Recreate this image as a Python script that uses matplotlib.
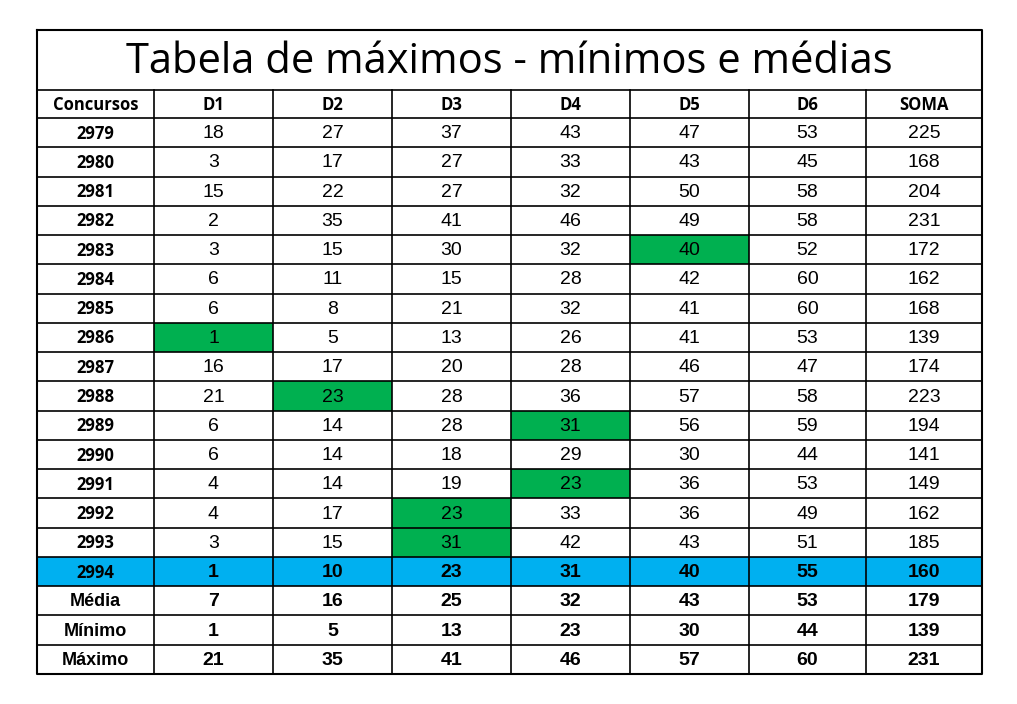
import matplotlib.pyplot as plt
from matplotlib.patches import Rectangle

title = "Tabela de máximos - mínimos e médias"
headers = ["Concursos", "D1", "D2", "D3", "D4", "D5", "D6", "SOMA"]
concursos = [2979, 2980, 2981, 2982, 2983, 2984, 2985, 2986, 2987, 2988,
             2989, 2990, 2991, 2992, 2993, 2994]
d1 = [18, 3, 15, 2, 3, 6, 6, 1, 16, 21, 6, 6, 4, 4, 3, 1]
d2 = [27, 17, 22, 35, 15, 11, 8, 5, 17, 23, 14, 14, 14, 17, 15, 10]
d3 = [37, 27, 27, 41, 30, 15, 21, 13, 20, 28, 28, 18, 19, 23, 31, 23]
d4 = [43, 33, 32, 46, 32, 28, 32, 26, 28, 36, 31, 29, 23, 33, 42, 31]
d5 = [47, 43, 50, 49, 40, 42, 41, 41, 46, 57, 56, 30, 36, 36, 43, 40]
d6 = [53, 45, 58, 58, 52, 60, 60, 53, 47, 58, 59, 44, 53, 49, 51, 55]
soma = [225, 168, 204, 231, 172, 162, 168, 139, 174, 223, 194, 141, 149, 162, 185, 160]
stat_labels = ["Média", "Mínimo", "Máximo"]
media = [7, 16, 25, 32, 43, 53, 179]
minimo = [1, 5, 13, 23, 30, 44, 139]
maximo = [21, 35, 41, 46, 57, 60, 231]
# (row index, column index) of green highlighted cells; column 1 = D1
green_cells = [(4, 5), (7, 1), (9, 2), (10, 4), (12, 4), (13, 3), (14, 3)]

GREEN = "#00B050"
BLUE = "#00B0F0"

fig = plt.figure(figsize=(10.17, 7.04), dpi=100)
ax = fig.add_axes([0, 0, 1, 1])
ax.set_xlim(0, 1017)
ax.set_ylim(704, 0)
ax.axis("off")

xs = [37, 154, 273, 392, 511, 630, 749, 866, 982]
top, title_bottom, header_bottom, bottom = 30, 90, 118, 674
n_rows = len(concursos) + len(stat_labels)
rh = (bottom - header_bottom) / n_rows

cols = [d1, d2, d3, d4, d5, d6, soma]
body = [[str(c)] + [str(col[i]) for col in cols] for i, c in enumerate(concursos)]
for lab, vals in zip(stat_labels, [media, minimo, maximo]):
    body.append([lab] + [str(v) for v in vals])

# fills
last = len(concursos) - 1
ax.add_patch(Rectangle((xs[0], header_bottom + last * rh), xs[-1] - xs[0], rh,
                       facecolor=BLUE, edgecolor="none"))
for r, c in green_cells:
    ax.add_patch(Rectangle((xs[c], header_bottom + r * rh), xs[c + 1] - xs[c], rh,
                           facecolor=GREEN, edgecolor="none"))

# grid lines
lw = 1.2
ax.plot([xs[0], xs[-1], xs[-1], xs[0], xs[0]], [top, top, bottom, bottom, top], color="black", lw=1.5)
ax.plot([xs[0], xs[-1]], [title_bottom] * 2, color="black", lw=lw)
for i in range(n_rows):
    y = header_bottom + i * rh
    ax.plot([xs[0], xs[-1]], [y, y], color="black", lw=lw)
for x in xs[1:-1]:
    ax.plot([x, x], [title_bottom, bottom], color="black", lw=lw)

ax.text((xs[0] + xs[-1]) / 2, (top + title_bottom) / 2 + 2, title, ha="center", va="center",
        fontsize=30, family="Open Sans")

for j, h in enumerate(headers):
    ax.text((xs[j] + xs[j + 1]) / 2, (title_bottom + header_bottom) / 2 + 1, h,
            ha="center", va="center", fontsize=12, fontweight="bold", family="Open Sans")

for i, row in enumerate(body):
    yc = header_bottom + (i + 0.5) * rh + 1
    bold_row = i >= last
    for j, txt in enumerate(row):
        if j == 0:
            ax.text((xs[0] + xs[1]) / 2, yc, txt, ha="center", va="center",
                    fontsize=12 if i < len(concursos) else 13, fontweight="bold",
                    family="Open Sans" if i < len(concursos) else "Liberation Sans")
        else:
            ax.text((xs[j] + xs[j + 1]) / 2, yc, txt, ha="center", va="center",
                    fontsize=14, fontweight="bold" if bold_row else "normal",
                    family="Liberation Sans")

fig.savefig("out.png", dpi=100)
